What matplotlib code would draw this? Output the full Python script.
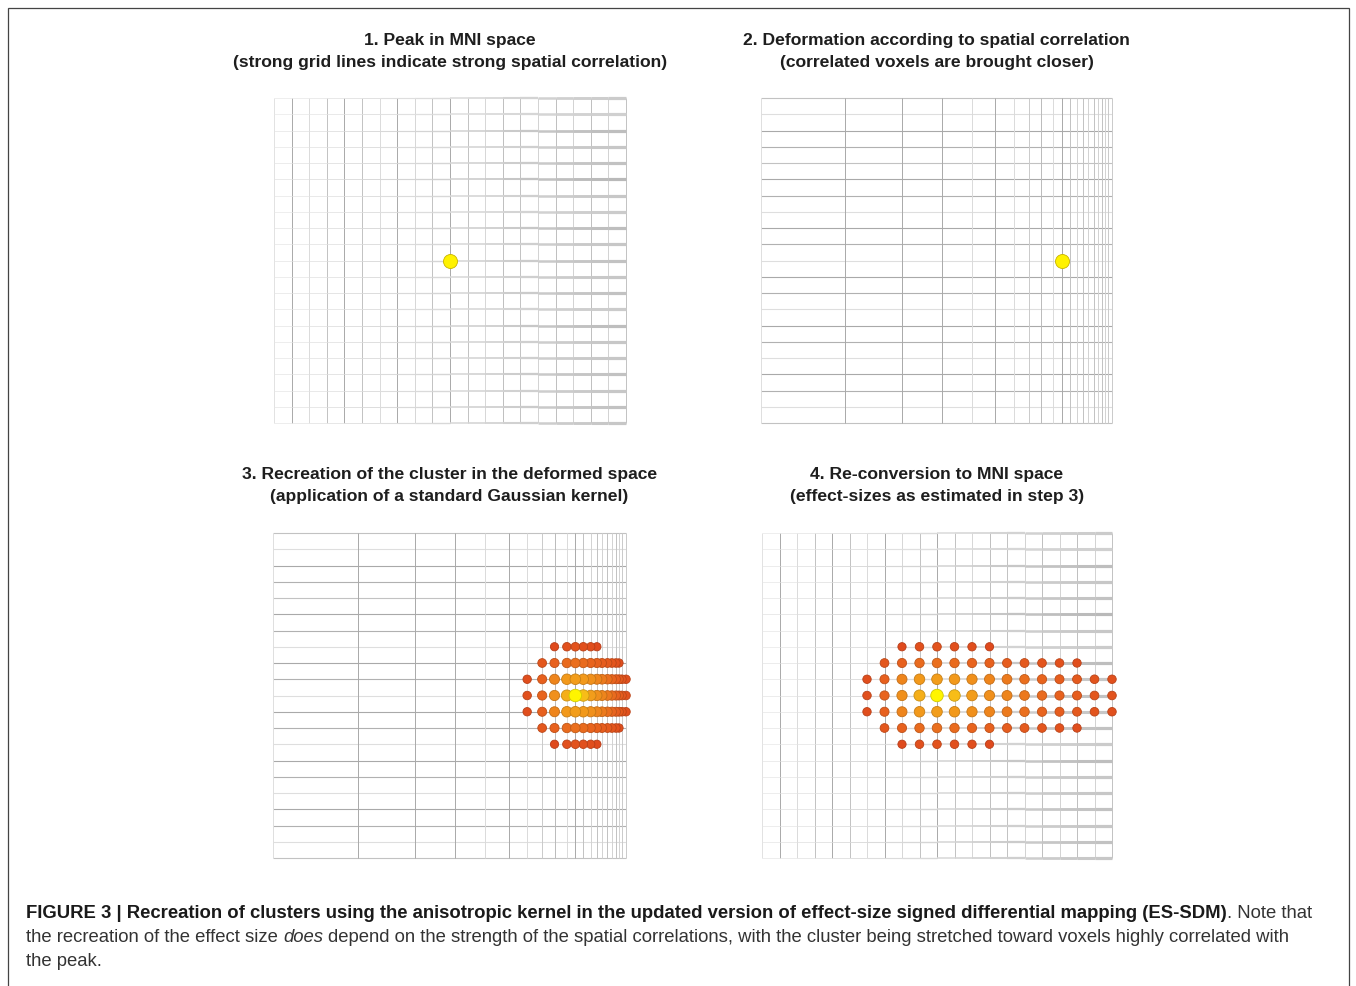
"""Recreation of clusters with the anisotropic kernel (ES-SDM, figure 3)."""

import numpy as np
import matplotlib
matplotlib.use("Agg")
import matplotlib.pyplot as plt
from matplotlib.collections import LineCollection
from matplotlib.colors import LinearSegmentedColormap
from matplotlib.patches import Rectangle
from matplotlib.transforms import IdentityTransform

W, H = 1356, 986
FONT = ["Liberation Sans", "DejaVu Sans"]

# 21 x 21 grid lines, peak voxel at column 10 / row 10
n_lines = 21
peak_col, peak_row = 10, 10

# column positions after the deformation (MNI units)
deformed_x = [0, 4.8, 8.05, 10.3, 12.0, 13.35, 14.4, 15.25, 15.95, 16.65, 17.13,
              17.58, 18.0, 18.35, 18.64, 18.95, 19.2, 19.43, 19.6, 19.77, 20.0]

# horizontal spatial correlation between neighbouring columns (20 segments)
h_corr = [0.0, 0.05, 0.1, 0.15, 0.2, 0.25, 0.3, 0.35, 0.4, 0.45,
          0.5, 0.55, 0.6, 0.68, 0.75, 0.82, 0.88, 0.92, 0.96, 1.0]

# darkness of the grid lines (0 faint .. 1 strong)
row_strength_mni = [0.4, 0.3, 0.7, 0.5, 0.6, 0.8, 0.5, 0.4, 0.7, 0.5, 0.6,
                    0.5, 0.6, 0.4, 0.7, 0.5, 0.5, 0.6, 0.5, 0.6, 0.5]
col_strength_mni = [0.1, 0.8, 0.2, 0.5, 0.8, 0.5, 0.2, 0.8, 0.25, 0.5, 0.8,
                    0.5, 0.25, 0.55, 0.5, 0.3, 0.55, 0.3, 0.55, 0.3, 0.5]
row_strength_def = [0.5, 0.15, 0.8, 0.7, 0.5, 0.8, 0.7, 0.15, 0.8, 0.7, 0.15,
                    0.8, 0.7, 0.15, 0.8, 0.7, 0.15, 0.8, 0.7, 0.15, 0.5]
col_strength_def = [0.15, 0.8, 0.8, 0.8, 0.2, 0.8, 0.2, 0.4, 0.6, 0.2, 0.8,
                    0.5, 0.3, 0.5, 0.3, 0.5, 0.3, 0.5, 0.3, 0.4, 0.4]

# recreated effect sizes, rows 7..13 x columns 6..20 (nan = no voxel)
cluster_rows = [7, 8, 9, 10, 11, 12, 13]
cluster_cols = list(range(6, 21))
nan = np.nan
effect_r7 = [nan, nan, .15, .20, .22, .20, .18, .15, nan, nan, nan, nan, nan, nan, nan]
effect_r8 = [nan, .25, .33, .38, .40, .38, .35, .33, .30, .27, .24, .21, .18, nan, nan]
effect_r9 = [.18, .32, .50, .60, .62, .60, .55, .50, .45, .40, .35, .30, .27, .23, .20]
effect_r10 = [.20, .35, .55, .72, 1.0, .80, .62, .55, .50, .44, .38, .33, .30, .25, .22]
effect = [effect_r7, effect_r8, effect_r9, effect_r10, effect_r9, effect_r8, effect_r7]

titles = [
    ("1. Peak in MNI space", "(strong grid lines indicate strong spatial correlation)"),
    ("2. Deformation according to spatial correlation", "(correlated voxels are brought closer)"),
    ("3. Recreation of the cluster in the deformed space", "(application of a standard Gaussian kernel)"),
    ("4. Re-conversion to MNI space", "(effect-sizes as estimated in step 3)"),
]

caption = [
    [("FIGURE 3 | Recreation of clusters using the anisotropic kernel in the updated "
      "version of effect-size signed differential mapping (ES-SDM)", "bold"),
     (". Note that", "normal")],
    [("the recreation of the effect size", "normal"), (" ", "space"), ("does", "italic"),
     (" ", "space"),
     ("depend on the strength of the spatial correlations, with the cluster being "
      "stretched toward voxels highly correlated with", "normal")],
    [("the peak.", "normal")],
]

cmap = LinearSegmentedColormap.from_list(
    "es", [(0.0, "#d8361c"), (0.35, "#e8641e"), (0.55, "#f0901c"),
           (0.75, "#f6b418"), (0.88, "#f8cc18"), (1.0, "#fff500")])


def _gray(s, base=0.92, span=0.32):
    v = base - span * s
    return (v, v, v)


def _px_axes(fig, x0, y0, x1, y1):
    ax = fig.add_axes([x0 / W, 1 - y1 / H, (x1 - x0) / W, (y1 - y0) / H])
    ax.set_xlim(0, 20)
    ax.set_ylim(20, 0)
    ax.axis("off")
    return ax


def _mni_grid(ax):
    segs, lws, cols = [], [], []
    for r in range(n_lines):
        for i, h in enumerate(h_corr):
            segs.append([(i, r), (i + 1, r)])
            lws.append(0.5 + 1.8 * h ** 1.6)
            lev = 0.93 - 0.18 * row_strength_mni[r] * (0.3 + 0.7 * h) - 0.06 * h
            cols.append((lev, lev, lev))
    ax.add_collection(LineCollection(segs, linewidths=lws, colors=cols,
                                     clip_on=False, zorder=1, capstyle="butt"))
    vsegs = [[(c, 0), (c, 20)] for c in range(n_lines)]
    ax.add_collection(LineCollection(vsegs, linewidths=0.7,
                                     colors=[_gray(s) for s in col_strength_mni],
                                     clip_on=False, zorder=0))


def _deformed_grid(ax):
    hsegs = [[(0, r), (20, r)] for r in range(n_lines)]
    ax.add_collection(LineCollection(hsegs, linewidths=0.8,
                                     colors=[_gray(s) for s in row_strength_def],
                                     clip_on=False, zorder=1))
    vsegs = [[(x, 0), (x, 20)] for x in deformed_x]
    ax.add_collection(LineCollection(vsegs, linewidths=0.7,
                                     colors=[_gray(s) for s in col_strength_def],
                                     clip_on=False, zorder=2))


def _peak(ax, x):
    ax.scatter([x], [peak_row], s=(14 * 0.72) ** 2, c="#fff200",
               edgecolors="#c8b400", linewidths=0.6, zorder=5, clip_on=False)


def _cluster(ax, xpos):
    xs, ys, vs = [], [], []
    for r, row in zip(cluster_rows, effect):
        for c, v in zip(cluster_cols, row):
            if np.isnan(v):
                continue
            xs.append(xpos[c])
            ys.append(r)
            vs.append(v)
    order = np.argsort(vs)
    xs, ys, vs = np.array(xs)[order], np.array(ys)[order], np.array(vs)[order]
    face = cmap(vs)
    edge = face.copy()
    edge[:, :3] *= 0.82
    sizes = ((7.5 + 5 * vs) * 0.72) ** 2
    ax.scatter(xs, ys, s=sizes, c=face, edgecolors=edge, linewidths=0.6,
               zorder=5, clip_on=False)


def _caption(fig, lines, x0, baselines, size):
    renderer = fig.canvas.get_renderer()
    ta = fig.text(0, 0, "a a", fontsize=size, family=FONT, transform=IdentityTransform())
    tb = fig.text(0, 0, "aa", fontsize=size, family=FONT, transform=IdentityTransform())
    space_w = ta.get_window_extent(renderer).width - tb.get_window_extent(renderer).width
    ta.remove()
    tb.remove()
    for runs, yb in zip(lines, baselines):
        x = x0
        for text, style in runs:
            if style == "space":
                x += space_w
                continue
            t = fig.text(x, H - yb, text, fontsize=size, family=FONT,
                         fontweight="bold" if style == "bold" else "normal",
                         fontstyle="italic" if style == "italic" else "normal",
                         color="#1a1a1a" if style == "bold" else "#333333",
                         va="baseline", ha="left", transform=IdentityTransform())
            x = t.get_window_extent(renderer).x1


def main():
    fig = plt.figure(figsize=(W / 100, H / 100), dpi=100)
    fig.patch.set_facecolor("white")

    frame = Rectangle((8, -10), 1341, H - 8 + 10, transform=IdentityTransform(),
                      fill=False, edgecolor="#444444", linewidth=0.9)
    fig.patches.append(frame)

    boxes = [(274, 98, 626, 423), (761, 98, 1112, 423),
             (273, 533, 626, 858), (762, 533, 1112, 858)]
    axes = [_px_axes(fig, *b) for b in boxes]

    _mni_grid(axes[0])
    _peak(axes[0], peak_col)
    _deformed_grid(axes[1])
    _peak(axes[1], deformed_x[peak_col])
    _deformed_grid(axes[2])
    _cluster(axes[2], deformed_x)
    _mni_grid(axes[3])
    _cluster(axes[3], list(range(n_lines)))

    title_y = [(41, 62), (41, 62), (474, 496), (474, 496)]
    for (x0, _, x1, _), (t1, t2), (y1, y2) in zip(boxes, titles, title_y):
        xc = (x0 + x1) / 2
        for txt, yy in ((t1, y1), (t2, y2)):
            fig.text(xc / W, 1 - yy / H, txt, ha="center", va="center",
                     fontsize=12.6, fontweight="bold", family=FONT, color="#1e1e1e")

    _caption(fig, caption, 26, [918, 942, 966], 13.3)

    fig.savefig("out.png", dpi=100, facecolor="white")
    plt.close(fig)


if __name__ == "__main__":
    main()
